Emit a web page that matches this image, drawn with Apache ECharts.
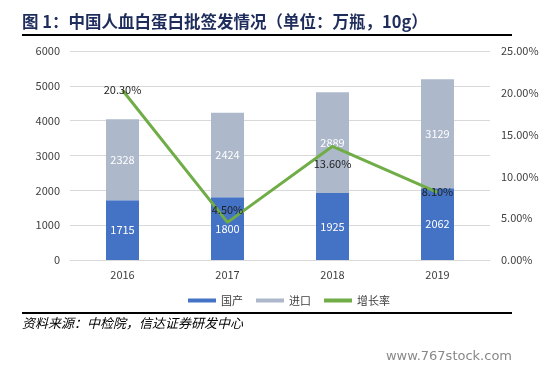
<!DOCTYPE html>
<html><head><meta charset="utf-8">
<script src="https://cdn.jsdelivr.net/npm/echarts@6/dist/echarts.min.js"></script>
<style>html,body{margin:0;padding:0;background:#fff}#c{width:560px;height:369px}</style>
</head><body><div id="c"></div>
<script>
const categories = ['2016', '2017', '2018', '2019'];
const domestic = [1715, 1800, 1925, 2062];
const imported = [2328, 2424, 2889, 3129];
const growth = [20.3, 4.5, 13.6, 8.1];
const growthLabelPos = ['inside', 'top', 'bottom', 'inside'];
const growthLabelDist = [5, 7, 12, 5];
const seriesNames = ['国产', '进口', '增长率'];
const titleText = '图 1：中国人血白蛋白批签发情况（单位：万瓶，10g）';
const sourceText = '资料来源：中检院，信达证券研发中心';
const watermark = 'www.767stock.com';

const chart = echarts.init(document.getElementById('c'));
const font = '"Noto Sans CJK SC", "Noto Sans", sans-serif';
chart.setOption({
  animation: false,
  textStyle: { fontFamily: font },
  grid: { left: 70, right: 70, top: 51, bottom: 109 },
  legend: {
    left: 183, top: 290, icon: 'rect', itemWidth: 28, itemHeight: 4, itemGap: 13,
    textStyle: { fontSize: 11, color: '#404040' },
    data: seriesNames
  },
  xAxis: {
    type: 'category', data: categories,
    axisLine: { lineStyle: { color: '#D9D9D9' } }, axisTick: { show: false },
    axisLabel: { color: '#404040', fontSize: 11, margin: 9 }
  },
  yAxis: [
    { type: 'value', min: 0, max: 6000, interval: 1000,
      axisLabel: { color: '#404040', fontSize: 11, margin: 10, formatter: v => String(v) },
      splitLine: { lineStyle: { color: '#D9D9D9' } }, axisLine: { show: false } },
    { type: 'value', min: 0, max: 25, interval: 5,
      axisLabel: { color: '#404040', fontSize: 11, margin: 11, formatter: v => v.toFixed(2) + '%' },
      splitLine: { show: false }, axisLine: { show: false } }
  ],
  series: [
    { name: seriesNames[0], type: 'bar', stack: 's', data: domestic, barWidth: 33,
      itemStyle: { color: '#4472C4' },
      label: { show: true, position: 'inside', color: '#fff', fontSize: 11 } },
    { name: seriesNames[1], type: 'bar', stack: 's', data: imported,
      itemStyle: { color: '#ADB9CA' },
      label: { show: true, position: 'inside', color: '#fff', fontSize: 11 } },
    { name: seriesNames[2], type: 'line', yAxisIndex: 1, symbol: 'circle', symbolSize: 0.1, showSymbol: true,
      lineStyle: { color: '#70AD47', width: 3 }, itemStyle: { color: '#70AD47' },
      data: growth.map((v, i) => ({ value: v, label: { show: true, position: growthLabelPos[i], distance: growthLabelDist[i],
        color: '#222', fontSize: 11, formatter: p => p.value.toFixed(2) + '%' } })) }
  ],
  graphic: [
    { type: 'text', left: 22, top: 13, style: { text: titleText, font: 'bold 16.5px ' + font, fill: '#1F2D5C' } },
    { type: 'rect', shape: { x: 22, y: 34, width: 490, height: 2 }, style: { fill: '#000' } },
    { type: 'rect', shape: { x: 22, y: 312, width: 490, height: 2 }, style: { fill: '#000' } },
    { type: 'text', left: 22, top: 317, style: { text: sourceText, font: 'italic 13px ' + font, fill: '#000' } },
    { type: 'text', right: 48, top: 350, style: { text: watermark, font: '13px "DejaVu Sans", sans-serif', fill: '#888' } }
  ]
});
</script></body></html>
